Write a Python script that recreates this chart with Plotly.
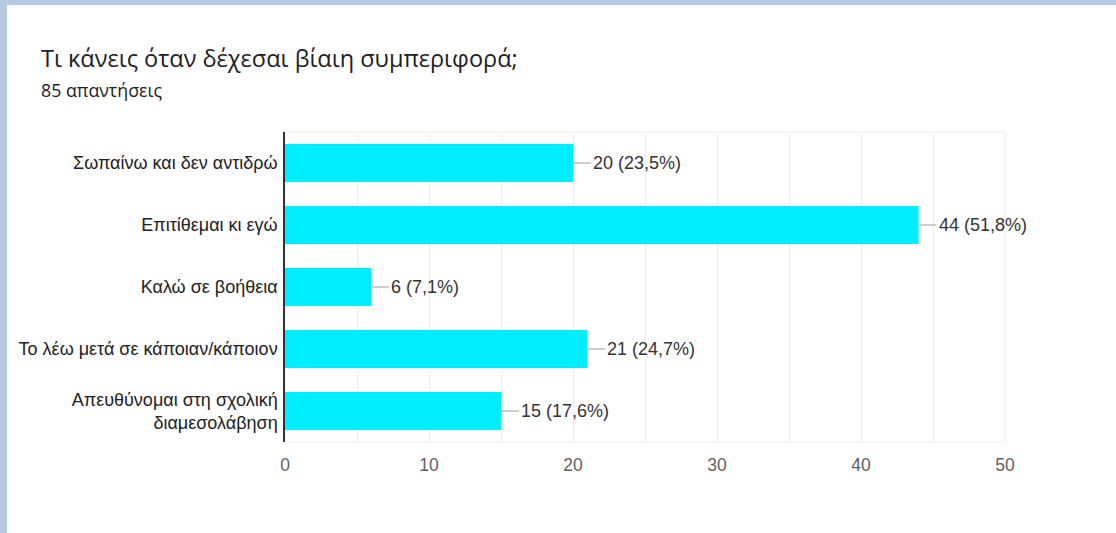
import plotly.graph_objects as go

categories = [
    "Σωπαίνω και δεν αντιδρώ",
    "Επιτίθεμαι κι εγώ",
    "Καλώ σε βοήθεια",
    "Το λέω μετά σε κάποιαν/κάποιον",
    "Απευθύνομαι στη σχολική<br>διαμεσολάβηση",
]
counts = [20, 44, 6, 21, 15]
total_responses = 85
title_text = "Τι κάνεις όταν δέχεσαι βίαιη συμπεριφορά;"
subtitle_text = "85 απαντήσεις"
x_ticks = [0, 10, 20, 30, 40, 50]

W, H = 1116, 533
ML, MR, MT, MB = 285, 111, 132, 91
PW, PH = W - ML - MR, H - MT - MB

def px_x(p):
    return (p - ML) / PW

def px_y(p):
    return (H - MB - p) / PH

labels = []
for c in counts:
    pct = f"{100 * c / total_responses:.1f}".replace(".", ",")
    labels.append(f"{c} ({pct}%)")

fig = go.Figure()
fig.add_trace(go.Bar(
    x=counts, y=categories, orientation="h",
    marker=dict(color="#00eeff", line=dict(width=0)),
    width=0.61, hoverinfo="x+y",
))

for c, cat, lab in zip(counts, categories, labels):
    fig.add_annotation(
        x=c, y=cat, xref="x", yref="y", text=lab,
        showarrow=True, ax=18, ay=0, arrowhead=0, arrowwidth=1,
        arrowcolor="#9e9e9e", standoff=0, startstandoff=0,
        xanchor="left", yanchor="middle",
        font=dict(family="Liberation Sans, Arial", size=18, color="#333333"),
    )

# page background and border
fig.add_shape(type="rect", xref="paper", yref="paper",
              x0=px_x(7), x1=px_x(W + 10), y0=px_y(H + 10), y1=px_y(5),
              fillcolor="white", line=dict(width=0), layer="below")
# plot frame
fig.add_shape(type="rect", xref="paper", yref="paper", x0=0, x1=1, y0=0, y1=1,
              line=dict(color="#eeeeee", width=1), layer="below")

fig.add_annotation(text=title_text, xref="paper", yref="paper",
                   x=px_x(39), y=px_y(58), xanchor="left", yanchor="middle",
                   showarrow=False,
                   font=dict(family="Open Sans", size=23.5, color="#202124"))
fig.add_annotation(text=subtitle_text, xref="paper", yref="paper",
                   x=px_x(39), y=px_y(90), xanchor="left", yanchor="middle",
                   showarrow=False,
                   font=dict(family="Open Sans", size=17.8, color="#202124"))

fig.update_layout(
    width=W, height=H,
    margin=dict(l=ML, r=MR, t=MT, b=MB),
    paper_bgcolor="#b7cae4", plot_bgcolor="white",
    showlegend=False, bargap=0.39,
    font=dict(family="Liberation Sans, Arial", color="#222222"),
)
fig.update_xaxes(
    range=[0, 50], tickvals=x_ticks, showgrid=True, gridcolor="#eeeeee",
    minor=dict(dtick=5, showgrid=True, gridcolor="#eeeeee"),
    zeroline=False, showline=False, ticks="",
    tickfont=dict(family="Liberation Sans, Arial", size=17.5, color="#5f5f5f"),
    ticklabelstandoff=10, fixedrange=True,
)
fig.update_yaxes(
    autorange="reversed", showgrid=False, zeroline=False,
    showline=True, linecolor="#333333", linewidth=1.5, ticks="",
    tickfont=dict(family="Liberation Sans, Arial", size=18, color="#222222"),
    ticklabelstandoff=2, fixedrange=True,
)

fig.write_html(
    "out.html",
    config={"displayModeBar": False},
    post_script="document.body.style.margin='0';document.body.style.padding='0';",
)
